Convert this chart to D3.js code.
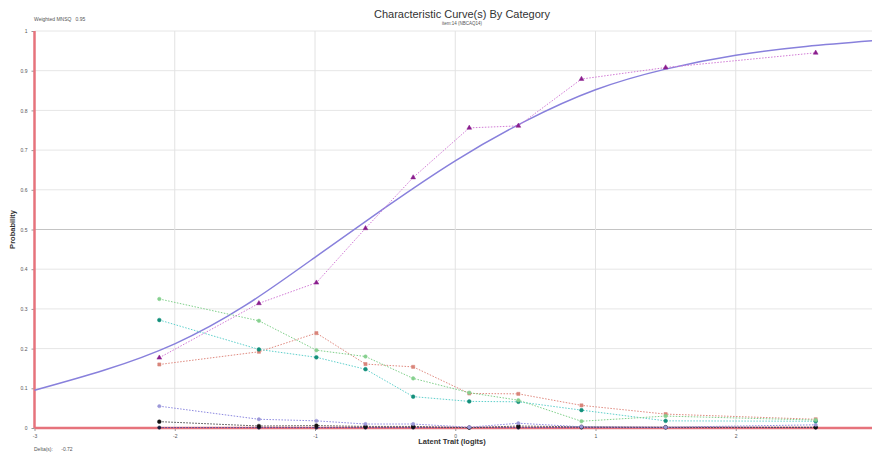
<!DOCTYPE html>
<html><head><meta charset="utf-8">
<script src="https://cdn.jsdelivr.net/npm/d3@7"></script>
<style>body{margin:0;background:#fff}svg{display:block;font-family:"Liberation Sans",Arial,sans-serif}</style>
</head><body><svg id="c" width="872" height="453"></svg>
<script>
// ---- data ----
const yTicks = [0, 0.1, 0.2, 0.3, 0.4, 0.5, 0.6, 0.7, 0.8, 0.9, 1];
const yTickLabels = ["0", "0.1", "0.2", "0.3", "0.4", "0.5", "0.6", "0.7", "0.8", "0.9", "1"];
const xTicks = [-3, -2, -1, 0, 1, 2];
const xTickLabels = ["-3", "-2", "-1", "0", "1", "2"];
// model (expected) curve
const curveX = [-3, -2.5, -2, -1.5, -1, -0.5, 0, 0.5, 1, 1.5, 2, 2.5, 3];
const curveP = [0.095, 0.146, 0.212, 0.308, 0.43, 0.555, 0.673, 0.773, 0.852, 0.904, 0.939, 0.961, 0.976];
// observed group locations
const obsX = [-2.11, -1.40, -0.99, -0.64, -0.30, 0.10, 0.45, 0.90, 1.50, 2.57];
const obsPurple   = [0.177, 0.314, 0.366, 0.503, 0.631, 0.756, 0.761, 0.879, 0.908, 0.945];
const obsGreen    = [0.325, 0.270, 0.196, 0.180, 0.125, 0.089, 0.070, 0.017, 0.030, 0.020];
const obsTeal     = [0.272, 0.198, 0.178, 0.148, 0.079, 0.067, 0.066, 0.045, 0.018, 0.017];
const obsSalmon   = [0.160, 0.192, 0.239, 0.161, 0.154, 0.087, 0.086, 0.057, 0.035, 0.022];
const obsLavender = [0.055, 0.022, 0.018, 0.010, 0.010, 0.002, 0.012, 0.003, 0.002, 0.008];
const obsBlack    = [0.016, 0.005, 0.006, 0.004, 0.004, 0.001, 0.005, 0.003, 0.002, 0.002];
const obsNavy     = [0.001, 0.001, 0.001, 0.001, 0.001, 0.001, 0.001, 0.001, 0.001, 0.001];
const seriesNames = ["purple", "green", "teal", "salmon", "lavender", "black", "navy"];

// ---- drawing ----
const svg = d3.select("#c");
const x = d3.scaleLinear().domain([-3, 3]).range([34.5, 876]);
const y = d3.scaleLinear().domain([0, 1]).range([428, 31]);

// grid
const g = svg.append("g");
g.selectAll("line.h").data(yTicks.filter(d => d > 0)).join("line")
  .attr("x1", x(-3)).attr("x2", 872).attr("y1", d => y(d)).attr("y2", d => y(d))
  .attr("stroke", d => d === 0.5 ? "#c4c4c4" : "#e6e6e6").attr("stroke-width", 1);
g.selectAll("line.v").data(xTicks.filter(d => d > -3)).join("line")
  .attr("x1", d => x(d)).attr("x2", d => x(d)).attr("y1", y(1)).attr("y2", y(0))
  .attr("stroke", "#e2e2e2").attr("stroke-width", 1);

// axes (tick labels)
const yAxis = d3.axisLeft(y).tickValues(yTicks).tickFormat((d, i) => yTickLabels[i]).tickSize(3);
const ya = svg.append("g").attr("transform", `translate(${x(-3)},0)`).call(yAxis);
ya.select(".domain").remove();
ya.selectAll("line").attr("stroke", "#999");
ya.selectAll("text").attr("font-size", 5).attr("fill", "#555").attr("dx", "-1");

const xAxis = d3.axisBottom(x).tickValues(xTicks).tickFormat((d, i) => xTickLabels[i]).tickSize(3);
const xa = svg.append("g").attr("transform", `translate(0,${y(0)})`).call(xAxis);
xa.select(".domain").remove();
xa.selectAll("line").attr("stroke", "#999");
xa.selectAll("text").attr("font-size", 5).attr("fill", "#555");

// observed series styles
const colors = {
  purple:   {line: "#d27bd6", mark: "#8a1e8e", shape: d3.symbolTriangle, size: 10},
  green:    {line: "#7fd08a", mark: "#86d08f", shape: d3.symbolCircle, size: 10},
  teal:     {line: "#5fd0cc", mark: "#138f7a", shape: d3.symbolCircle, size: 11},
  salmon:   {line: "#e08a80", mark: "#d9857a", shape: d3.symbolSquare, size: 10},
  lavender: {line: "#8c88e0", mark: "#9c98d8", shape: d3.symbolCircle, size: 9},
  black:    {line: "#444444", mark: "#111111", shape: d3.symbolCircle, size: 11},
  navy:     {line: "#4040a0", mark: "#1a1a3a", shape: d3.symbolCircle, size: 9}
};
const obsData = {purple: obsPurple, green: obsGreen, teal: obsTeal, salmon: obsSalmon,
  lavender: obsLavender, black: obsBlack, navy: obsNavy};
const line = d3.line().x(d => x(d[0])).y(d => y(d[1]));

// red axis lines
svg.append("line").attr("x1", x(-3)).attr("x2", 872).attr("y1", y(0)).attr("y2", y(0))
  .attr("stroke", "#e6737c").attr("stroke-width", 2.5);
svg.append("line").attr("x1", x(-3)).attr("x2", x(-3)).attr("y1", y(1)).attr("y2", y(0))
  .attr("stroke", "#e6737c").attr("stroke-width", 2.5);

// expected curve
const curveData = curveX.map((v, i) => [v, curveP[i]]);
svg.append("path").datum(curveData)
  .attr("d", d3.line().x(d => x(d[0])).y(d => y(d[1])).curve(d3.curveNatural))
  .attr("fill", "none").attr("stroke", "#8880dc").attr("stroke-width", 1.5);

[...seriesNames].reverse().forEach(name => {
  const c = colors[name];
  const pts = obsX.map((v, i) => [v, obsData[name][i]]);
  svg.append("path").datum(pts).attr("d", line)
    .attr("fill", "none").attr("stroke", c.line).attr("stroke-width", 1)
    .attr("stroke-dasharray", "1.5,1.5");
  svg.selectAll(null).data(pts).join("path")
    .attr("transform", d => `translate(${x(d[0])},${y(d[1])})`)
    .attr("d", d3.symbol().type(c.shape).size(c.size))
    .attr("fill", c.mark).attr("stroke", c.mark).attr("stroke-width", 0.5);
});

// texts
svg.append("text").attr("x", 462).attr("y", 18).attr("text-anchor", "middle")
  .attr("font-size", 11).attr("fill", "#333").text("Characteristic Curve(s) By Category");
svg.append("text").attr("x", 462).attr("y", 25).attr("text-anchor", "middle")
  .attr("font-size", 4.5).attr("fill", "#555").text("item:14 (NBCAQ14)");
svg.append("text").attr("x", 34).attr("y", 21)
  .attr("font-size", 5).attr("fill", "#555").attr("xml:space", "preserve").text("Weighted MNSQ   0.95");
svg.append("text").attr("x", 34).attr("y", 451)
  .attr("font-size", 5).attr("fill", "#555").attr("xml:space", "preserve").text("Delta(s):      -0.72");
svg.append("text").attr("x", 452).attr("y", 444).attr("text-anchor", "middle")
  .attr("font-size", 7.5).attr("font-weight", "bold").attr("fill", "#333").text("Latent Trait (logits)");
svg.append("text").attr("transform", `translate(15,${y(0.5)}) rotate(-90)`).attr("text-anchor", "middle")
  .attr("font-size", 7.5).attr("font-weight", "bold").attr("fill", "#333").text("Probability");
</script></body></html>
